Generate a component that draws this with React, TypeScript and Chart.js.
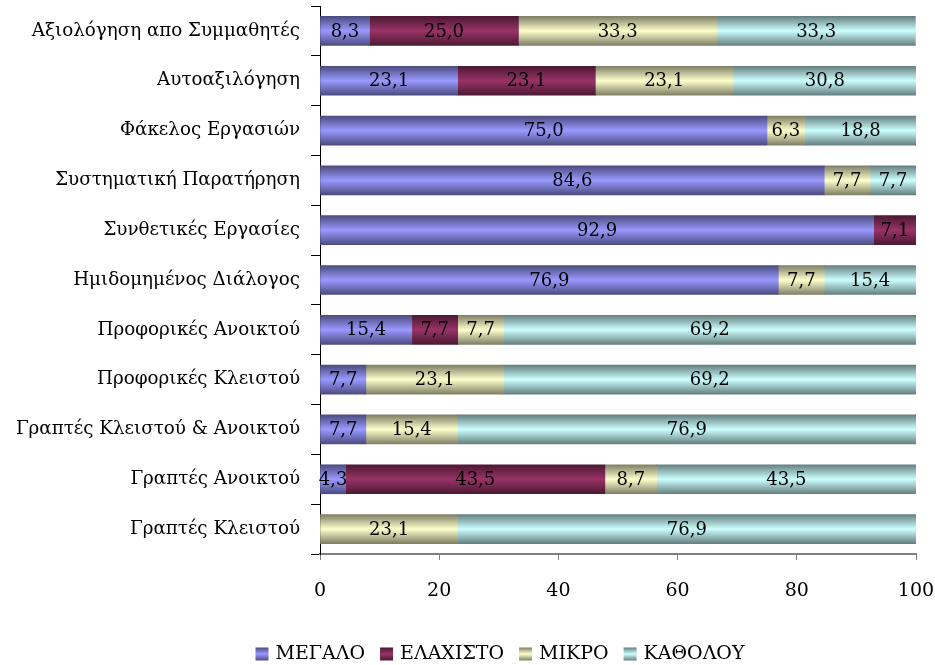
import React, { useEffect, useRef } from "react";
import { Chart, registerables } from "chart.js";

Chart.register(...registerables);

const categories = [
  "Αξιολόγηση απο Συμμαθητές",
  "Αυτοαξιλόγηση",
  "Φάκελος Εργασιών",
  "Συστηματική Παρατήρηση",
  "Συνθετικές Εργασίες",
  "Ημιδομημένος Διάλογος",
  "Προφορικές Ανοικτού",
  "Προφορικές Κλειστού",
  "Γραπτές Κλειστού & Ανοικτού",
  "Γραπτές Ανοικτού",
  "Γραπτές Κλειστού",
];

const seriesNames = ["ΜΕΓΑΛΟ", "ΕΛΑΧΙΣΤΟ", "ΜΙΚΡΟ", "ΚΑΘΟΛΟΥ"];

const megalo = [8.3, 23.1, 75.0, 84.6, 92.9, 76.9, 15.4, 7.7, 7.7, 4.3, null];
const elaxisto = [25.0, 23.1, null, null, 7.1, null, 7.7, null, null, 43.5, null];
const mikro = [33.3, 23.1, 6.3, 7.7, null, 7.7, 7.7, 23.1, 15.4, 8.7, 23.1];
const katholou = [33.3, 30.8, 18.8, 7.7, null, 15.4, 69.2, 69.2, 76.9, 43.5, 76.9];

const xTicks = [0, 20, 40, 60, 80, 100];

// [light (center), dark (edges)]
const palettes: [string, string][] = [
  ["#9999FF", "#4C4C80"],
  ["#993366", "#4C1933"],
  ["#FFFFCC", "#7F7F66"],
  ["#CCFFFF", "#668080"],
];

const FONT = "'DejaVu Serif', 'Liberation Serif', serif";
const BAR = 29;

function makeGradient(ctx: CanvasRenderingContext2D, y0: number, y1: number, pal: [string, string]) {
  const g = ctx.createLinearGradient(0, y0, 0, y1);
  g.addColorStop(0, pal[1]);
  g.addColorStop(0.5, pal[0]);
  g.addColorStop(1, pal[1]);
  return g;
}

const valueLabels = {
  id: "valueLabels",
  afterDatasetsDraw(chart: any) {
    const ctx = chart.ctx;
    ctx.save();
    ctx.font = `18px ${FONT}`;
    ctx.fillStyle = "#000";
    ctx.textAlign = "center";
    ctx.textBaseline = "middle";
    chart.data.datasets.forEach((ds: any, di: number) => {
      const meta = chart.getDatasetMeta(di);
      meta.data.forEach((el: any, i: number) => {
        const v = ds.data[i];
        if (v === null || v === undefined) return;
        const p = el.getCenterPoint();
        ctx.fillText(v.toFixed(1).replace(".", ","), p.x, p.y + 1);
      });
    });
    ctx.restore();
  },
};

// legend layout
const LEG_CENTER_X = 500;
const LEG_Y = 654;
const LEG_BOX = 13;
const LEG_GAP = 7;
const LEG_SPACING = 15;

const customLegend = {
  id: "customLegend",
  afterDraw(chart: any) {
    const ctx = chart.ctx;
    ctx.save();
    ctx.font = `19px ${FONT}`;
    ctx.textBaseline = "middle";
    ctx.textAlign = "left";
    const names = chart.data.datasets.map((d: any) => d.label as string);
    const widths = names.map((n: string) => ctx.measureText(n).width);
    const total =
      widths.reduce((a: number, w: number) => a + LEG_BOX + LEG_GAP + w, 0) +
      LEG_SPACING * (names.length - 1);
    let x = LEG_CENTER_X - total / 2;
    names.forEach((n: string, i: number) => {
      const y0 = LEG_Y - LEG_BOX / 2;
      ctx.fillStyle = makeGradient(ctx, y0, y0 + LEG_BOX, palettes[i]);
      ctx.fillRect(x, y0, LEG_BOX, LEG_BOX);
      x += LEG_BOX + LEG_GAP;
      ctx.fillStyle = "#000";
      ctx.fillText(n, x, LEG_Y);
      x += widths[i] + LEG_SPACING;
    });
    ctx.restore();
  },
};

export default function App() {
  const ref = useRef<HTMLCanvasElement>(null);

  useEffect(() => {
    const seriesData = [megalo, elaxisto, mikro, katholou];
    const chart = new Chart(ref.current!, {
      type: "bar",
      data: {
        labels: categories,
        datasets: seriesData.map((d, k) => ({
          label: seriesNames[k],
          data: d,
          barThickness: BAR,
          borderWidth: 0,
          backgroundColor: (c: any) => {
            const ch = c.chart;
            const ys = ch.scales && ch.scales.y;
            if (!ys || c.dataIndex === undefined) return palettes[k][0];
            const cy = ys.getPixelForValue(c.dataIndex);
            if (!isFinite(cy)) return palettes[k][0];
            return makeGradient(ch.ctx, cy - BAR / 2, cy + BAR / 2, palettes[k]);
          },
        })),
      },
      options: {
        indexAxis: "y",
        animation: false,
        responsive: false,
        layout: { padding: { top: 6, right: 19, left: 0, bottom: 0 } },
        plugins: {
          tooltip: { enabled: false },
          legend: { display: false },
        },
        scales: {
          x: {
            stacked: true,
            min: 0,
            max: 100,
            afterBuildTicks: (s: any) => {
              s.ticks = xTicks.map((v) => ({ value: v }));
            },
            afterFit: (s: any) => {
              s.height = 111;
              s.paddingLeft = 0;
              s.paddingRight = 0;
            },
            ticks: {
              color: "#000",
              font: { family: FONT, size: 19 },
              padding: 20,
            },
            grid: {
              drawOnChartArea: false,
              drawTicks: true,
              tickLength: 6,
              color: "#808080",
            },
            border: { color: "#808080", width: 2 },
          },
          y: {
            stacked: true,
            afterFit: (s: any) => {
              s.width = 320;
              s.paddingTop = 0;
              s.paddingBottom = 0;
            },
            ticks: {
              color: "#000",
              font: { family: FONT, size: 18.3 },
              padding: 11,
              autoSkip: false,
            },
            grid: {
              offset: true,
              drawOnChartArea: false,
              drawTicks: true,
              tickLength: 9,
              color: "#000",
            },
            border: { color: "#000", width: 1 },
          },
        },
      },
      plugins: [valueLabels, customLegend],
    });
    return () => chart.destroy();
  }, []);

  return (
    <div style={{ position: "absolute", left: 0, top: 0, width: 935, height: 665 }}>
      <canvas ref={ref} width={935} height={665} />
    </div>
  );
}
